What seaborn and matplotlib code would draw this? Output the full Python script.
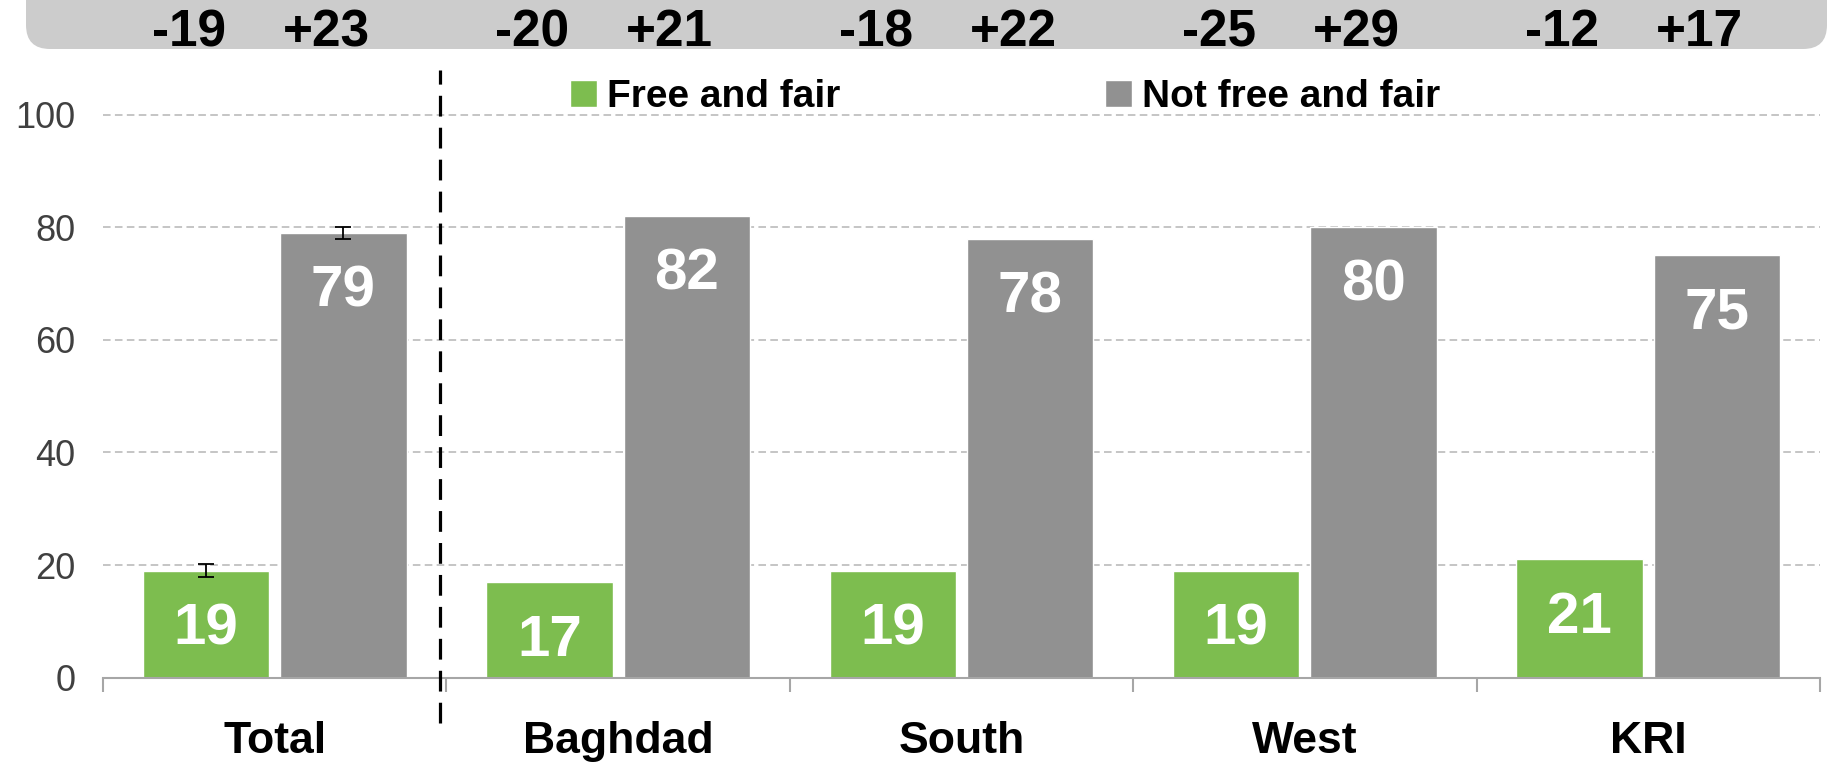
import pandas as pd
import seaborn as sns
import matplotlib.pyplot as plt
import matplotlib.transforms as mtransforms
from matplotlib.patches import FancyBboxPatch

# data
regions = ['Total', 'Baghdad', 'South', 'West', 'KRI']
free_fair = [19, 17, 19, 19, 21]
not_free_fair = [79, 82, 78, 80, 75]
free_err = [1.2, 0, 0, 0, 0]
not_free_err = [1.1, 0, 0, 0, 0]
change_free = ['-19', '-20', '-18', '-25', '-12']
change_not = ['+23', '+21', '+22', '+29', '+17']
answers = ['Free and fair', 'Not free and fair']

green = '#7dbd4f'
gray = '#919191'

df = pd.DataFrame({
  'region': regions * 2,
  'pct': free_fair + not_free_fair,
  'answer': [answers[0]] * len(regions) + [answers[1]] * len(regions),
})

sns.set_style('white')
plt.rcParams['font.family'] = ['Liberation Sans', 'DejaVu Sans']

fig = plt.figure(figsize=(18.33, 7.64), dpi=100)
ax = fig.add_axes([0.0562, 0.1130, 0.9367, 0.7958])

sns.barplot(data=df, x='region', y='pct', hue='answer', palette=[green, gray],
            width=0.8, gap=0.08, errorbar=None, saturation=1, ax=ax)

ax.set_ylim(0, 108)
ax.set_xlim(-0.5, len(regions) - 0.5)
ax.set_yticks(range(0, 101, 20))
ax.tick_params(axis='y', length=0, labelsize=26, labelcolor='#404040', pad=20)
ax.set_xlabel('')
ax.set_ylabel('')
ax.set_xticks(range(len(regions)))
ax.set_xticklabels(regions, fontsize=32, fontweight='bold', color='black')
ax.tick_params(axis='x', which='major', length=0, pad=31)
ax.set_xticks([i - 0.5 for i in range(len(regions) + 1)], minor=True)
ax.tick_params(axis='x', which='minor', bottom=True, length=10, width=1.5,
               color='#a6a6a6')

ax.yaxis.grid(True, color='#c0c0c0', linestyle=(0, (4.2, 2.4)), linewidth=1.3)
ax.set_axisbelow(True)
for s in ['top', 'right', 'left']:
  ax.spines[s].set_visible(False)
ax.spines['bottom'].set_color('#a6a6a6')
ax.spines['bottom'].set_linewidth(1.5)

# value labels inside the bars, error bars on Total
for cont, errs in zip(ax.containers, [free_err, not_free_err]):
  for bar, err in zip(cont, errs):
    xc = bar.get_x() + bar.get_width() / 2
    h = bar.get_height()
    ax.text(xc, h - 10.4, f'{h:.0f}', ha='center', va='center', color='white',
            fontsize=42, fontweight='bold')
    if err > 0:
      ax.errorbar(xc, h, yerr=err, color='black', capsize=6, elinewidth=1.3,
                  capthick=1.3, zorder=5)

# divider between Total and the regions
ax.plot([0.48, 0.48], [-8.0, 108], color='black', lw=2.3,
        linestyle=(0, (6.5, 3.5)), clip_on=False, zorder=6)

# banner with changes along the top
banner = FancyBboxPatch((0.26, 7.15), 18.01, 1.0,
                        boxstyle='round,pad=0,rounding_size=0.24',
                        transform=fig.dpi_scale_trans, facecolor='#cccccc',
                        edgecolor='none', zorder=-1)
fig.patches.append(banner)
trans = mtransforms.blended_transform_factory(ax.transData, fig.transFigure)
for cont, labels in zip(ax.containers, [change_free, change_not]):
  for bar, lab in zip(cont, labels):
    xc = bar.get_x() + bar.get_width() / 2 - 0.05
    ax.text(xc, 0.957, lab, transform=trans, ha='center', va='center',
            fontsize=37, fontweight='bold', color='black')

handles, labels = ax.get_legend_handles_labels()
ax.legend(handles, labels, loc='center left', bbox_to_anchor=(0.272, 0.955),
          ncol=2, frameon=False, borderpad=0, borderaxespad=0,
          handlelength=0.7, handleheight=0.7, handletextpad=0.25,
          columnspacing=6.8, labelcolor='black',
          prop={'size': 28, 'weight': 'bold'})

fig.savefig('out.png', dpi=100)
